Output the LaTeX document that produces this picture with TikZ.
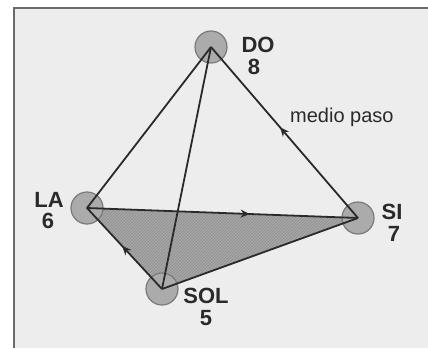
\documentclass[tikz,border=0pt]{standalone}
\usepackage{fontspec}
\setmainfont{Liberation Sans}
\usetikzlibrary{decorations.markings,arrows.meta,patterns}
\definecolor{paper}{HTML}{EDEDED}
\definecolor{frame}{HTML}{6A6A6A}
\definecolor{nodefill}{HTML}{ABABAB}
\definecolor{nodeedge}{HTML}{7A7A7A}
\definecolor{trifill}{HTML}{A6A6A6}
\definecolor{hatch}{HTML}{8E8E8E}
\definecolor{ink}{HTML}{2A2A2A}
\tikzset{
  note/.style={circle,minimum size=32pt,inner sep=0pt,fill=nodefill,draw=nodeedge,line width=1.2pt},
  lbl/.style={font=\fontsize{22}{22}\selectfont\bfseries,text=ink,inner sep=0pt},
  edge/.style={draw=ink,line width=1.8pt},
  midarrow/.style={postaction={decorate},decoration={markings,mark=at position #1 with {\arrow{Stealth[length=9pt,width=8pt]}}}}
}
\begin{document}
\begin{tikzpicture}[x=1pt,y=-1pt]
\useasboundingbox (0,0) rectangle (428,348);
\fill[white] (0,0) rectangle (428,348);
\fill[paper] (14,8) rectangle (428,348);
\draw[frame,line width=1.6pt] (14,348) -- (14,8) -- (428,8);
% triangle
\fill[trifill] (87,208) -- (358,218) -- (162,289) -- cycle;
\fill[pattern=north east lines,pattern color=hatch] (87,208) -- (358,218) -- (162,289) -- cycle;
% notes
\node[note] (do) at (211,47) {};
\node[note] (la) at (87,208) {};
\node[note] (si) at (358,218) {};
\node[note] (sol) at (162,289) {};
% labels
\node[lbl] (ndo) at (258,45) {DO};
\node[lbl] (vdo) at (254,67) {8};
\node[lbl] (nla) at (49,200) {LA};
\node[lbl] (vla) at (48,221) {6};
\node[lbl] (nsi) at (392,212) {SI};
\node[lbl] (vsi) at (394,234) {7};
\node[lbl] (nsol) at (206,296) {SOL};
\node[lbl] (vsol) at (206,318) {5};
\node[font=\fontsize{20}{20}\selectfont,text=ink,anchor=west,inner sep=0pt] (mp) at (290,117) {medio paso};
% edges
\draw[edge] (do.center) -- (la.center);
\draw[edge] (do.center) -- (sol.center);
\draw[edge,midarrow=0.53] (si.center) -- (do.center);
\draw[edge,midarrow=0.6] (la.center) -- (si.center);
\draw[edge,midarrow=0.53] (sol.center) -- (la.center);
\draw[edge] (sol.center) -- (si.center);
\end{tikzpicture}
\end{document}
